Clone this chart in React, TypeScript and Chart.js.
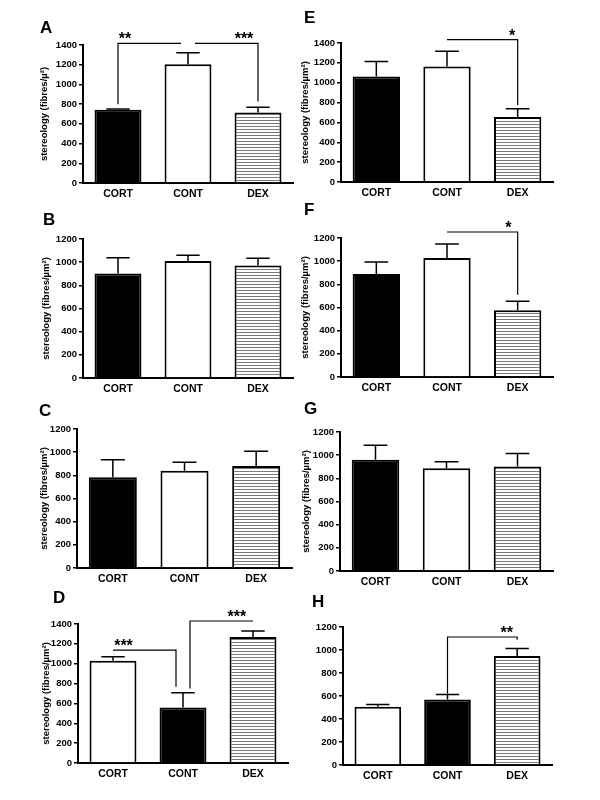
import React, { useEffect, useRef } from 'react';
import { Chart, registerables } from 'chart.js';

Chart.register(...registerables);

const FONT = '"Liberation Sans", Arial, Helvetica, sans-serif';
Chart.defaults.font.family = FONT;

// ---------- data ----------
const categories = ['CORT', 'CONT', 'DEX'];
const tickStep = 200;

const meansA = [742, 1204, 715];
const semA = [8, 118, 54];
const meansB = [903, 1010, 972];
const semB = [135, 49, 61];
const meansC = [783, 840, 880];
const semC = [152, 72, 127];
const meansD = [1030, 559, 1269];
const semD = [40, 148, 60];
const meansE = [1063, 1164, 654];
const semE = [151, 152, 85];
const meansF = [889, 1027, 576];
const semF = [104, 121, 77];
const meansG = [960, 886, 903];
const semG = [125, 57, 112];
const meansH = [506, 570, 948];
const semH = [20, 43, 64];

const fillsStd = ['black', 'white', 'stripe'];
const fillsSwap = ['white', 'black', 'stripe'];

type Bracket = {
  from: number;
  to: number;
  level: number;
  dropFrom?: number;
  dropTo?: number;
  label: string;
  labelAt: number;
};

const bracketsA: Bracket[] = [
  { from: 0, to: 0.9, level: 1417, dropFrom: 800, label: '**', labelAt: 0.1 },
  { from: 1.1, to: 2, level: 1417, dropTo: 826, label: '***', labelAt: 1.8 },
];
const bracketsD: Bracket[] = [
  { from: 0, to: 0.9, level: 1137, dropTo: 767, label: '***', labelAt: 0.15 },
  { from: 1.1, to: 2, level: 1430, dropFrom: 750, label: '***', labelAt: 1.77 },
];
const bracketsE: Bracket[] = [{ from: 1, to: 2, level: 1434, dropTo: 776, label: '*', labelAt: 1.92 }];
const bracketsF: Bracket[] = [{ from: 1, to: 2, level: 1252, dropTo: 711, label: '*', labelAt: 1.87 }];
const bracketsH: Bracket[] = [
  { from: 1, to: 2, level: 1113, dropFrom: 620, dropTo: 1090, label: '**', labelAt: 1.85 },
];

const titleA = 'stereology (fibres/µ²)';
const titleStd = 'stereology (fibres/µm²)';

// ---------- layout ----------
type Spec = {
  letter: string;
  col: number;
  axisX: number;
  axisTop: number;
  axisBottom: number;
  axisRight: number;
  yMax: number;
  letterX: number;
  letterY: number;
  titleX: number;
  title: string;
  means: number[];
  sem: number[];
  fills: string[];
  brackets: Bracket[];
};

const panels: Spec[] = [
  { letter: 'A', col: 0, axisX: 83, axisTop: 45, axisBottom: 183, axisRight: 293, yMax: 1400, letterX: 40, letterY: 33, titleX: 44, title: titleA, means: meansA, sem: semA, fills: fillsStd, brackets: bracketsA },
  { letter: 'B', col: 0, axisX: 83, axisTop: 239, axisBottom: 378, axisRight: 293, yMax: 1200, letterX: 43, letterY: 225, titleX: 46, title: titleStd, means: meansB, sem: semB, fills: fillsStd, brackets: [] },
  { letter: 'C', col: 0, axisX: 77, axisTop: 429, axisBottom: 568, axisRight: 292, yMax: 1200, letterX: 39, letterY: 416, titleX: 44, title: titleStd, means: meansC, sem: semC, fills: fillsStd, brackets: [] },
  { letter: 'D', col: 0, axisX: 78, axisTop: 624, axisBottom: 763, axisRight: 288, yMax: 1400, letterX: 53, letterY: 603, titleX: 46, title: titleStd, means: meansD, sem: semD, fills: fillsSwap, brackets: bracketsD },
  { letter: 'E', col: 300, axisX: 341, axisTop: 43, axisBottom: 182, axisRight: 553, yMax: 1400, letterX: 304, letterY: 23, titleX: 305, title: titleStd, means: meansE, sem: semE, fills: fillsStd, brackets: bracketsE },
  { letter: 'F', col: 300, axisX: 341, axisTop: 238, axisBottom: 377, axisRight: 553, yMax: 1200, letterX: 304, letterY: 215, titleX: 305, title: titleStd, means: meansF, sem: semF, fills: fillsStd, brackets: bracketsF },
  { letter: 'G', col: 300, axisX: 340, axisTop: 432, axisBottom: 571, axisRight: 553, yMax: 1200, letterX: 304, letterY: 414, titleX: 306, title: titleStd, means: meansG, sem: semG, fills: fillsStd, brackets: [] },
  { letter: 'H', col: 300, axisX: 343, axisTop: 627, axisBottom: 765, axisRight: 552, yMax: 1200, letterX: 312, letterY: 607, titleX: 306, title: '', means: meansH, sem: semH, fills: fillsSwap, brackets: bracketsH },
];

const TOP_ROOM = 45;
const BOTTOM_ROOM = 25;
const X_AXIS_H = 20;

let stripeCache: CanvasPattern | null = null;
function stripe(): CanvasPattern | string {
  if (stripeCache) return stripeCache;
  const c = document.createElement('canvas');
  c.width = 4;
  c.height = 3;
  const g = c.getContext('2d');
  if (!g) return '#ccc';
  g.fillStyle = '#ffffff';
  g.fillRect(0, 0, 4, 3);
  g.fillStyle = '#7a7a7a';
  g.fillRect(0, 0, 4, 1);
  const p = g.createPattern(c, 'repeat');
  if (!p) return '#ccc';
  stripeCache = p;
  return p;
}

function makeOverlay(spec: Spec, left: number, top: number) {
  return {
    id: 'overlay' + spec.letter,
    afterDatasetsDraw(chart: any) {
      const { ctx } = chart;
      const x = chart.scales.x;
      const y = chart.scales.y;
      const meta = chart.getDatasetMeta(0);
      const p0 = x.getPixelForValue(0);
      const p1 = x.getPixelForValue(1);
      const px = (v: number) => p0 + (p1 - p0) * v;
      ctx.save();
      ctx.strokeStyle = '#000';
      ctx.lineWidth = 1.5;
      spec.means.forEach((m, i) => {
        const el = meta.data[i];
        const cx = el.x;
        const w = el.width;
        const y0 = y.getPixelForValue(m);
        const y1 = y.getPixelForValue(m + spec.sem[i]);
        ctx.beginPath();
        ctx.moveTo(cx, y0);
        ctx.lineTo(cx, y1);
        ctx.moveTo(cx - w / 4, y1);
        ctx.lineTo(cx + w / 4, y1);
        ctx.stroke();
      });
      ctx.lineWidth = 1.2;
      ctx.fillStyle = '#000';
      spec.brackets.forEach((b) => {
        const yl = y.getPixelForValue(b.level);
        const xa = px(b.from);
        const xb = px(b.to);
        ctx.beginPath();
        if (b.dropFrom != null) {
          ctx.moveTo(xa, y.getPixelForValue(b.dropFrom));
          ctx.lineTo(xa, yl);
        } else {
          ctx.moveTo(xa, yl);
        }
        ctx.lineTo(xb, yl);
        if (b.dropTo != null) ctx.lineTo(xb, y.getPixelForValue(b.dropTo));
        ctx.stroke();
        ctx.font = `bold 16px ${FONT}`;
        ctx.textAlign = 'center';
        ctx.textBaseline = 'alphabetic';
        ctx.fillText(b.label, px(b.labelAt), yl + 1);
      });
      ctx.font = `bold 17px ${FONT}`;
      ctx.textAlign = 'left';
      ctx.textBaseline = 'alphabetic';
      ctx.fillText(spec.letter, spec.letterX - left, spec.letterY - top);
      ctx.restore();
    },
  };
}

function Panel({ spec }: { spec: Spec }) {
  const ref = useRef<HTMLCanvasElement>(null);
  const left = spec.col;
  const top = spec.axisTop - TOP_ROOM;
  const height = spec.axisBottom - spec.axisTop + TOP_ROOM + BOTTOM_ROOM;
  const width = 300;

  useEffect(() => {
    if (!ref.current) return;
    const colors = spec.fills.map((f) => (f === 'black' ? '#000000' : f === 'white' ? '#ffffff' : stripe()));
    const chart = new Chart(ref.current, {
      type: 'bar',
      data: {
        labels: categories,
        datasets: [
          {
            data: spec.means,
            backgroundColor: colors as any,
            borderColor: '#000',
            borderWidth: 2,
            barPercentage: 0.67,
            categoryPercentage: 1,
          },
        ],
      },
      options: {
        responsive: false,
        animation: false,
        events: [],
        layout: {
          padding: {
            left: 0,
            top: TOP_ROOM,
            right: left + width - spec.axisRight,
            bottom: BOTTOM_ROOM - X_AXIS_H,
          },
        },
        plugins: { legend: { display: false }, tooltip: { enabled: false }, title: { display: false } },
        scales: {
          x: {
            grid: { display: false, drawTicks: false },
            border: { display: true, color: '#000', width: 2 },
            ticks: { color: '#000', font: { size: 10.5, weight: 'bold' }, padding: 5 },
            afterFit: (s: any) => {
              s.height = X_AXIS_H;
            },
          },
          y: {
            min: 0,
            max: spec.yMax,
            ticks: {
              stepSize: tickStep,
              color: '#000',
              font: { size: 9.5, weight: 'bold' },
              padding: 2,
              callback: (v: any) => String(v),
            },
            grid: { drawOnChartArea: false, drawTicks: true, tickLength: 4, color: '#000', lineWidth: 1.5 },
            border: { display: true, color: '#000', width: 2 },
            title: {
              display: !!spec.title,
              text: spec.title,
              color: '#000',
              font: { size: 9.5, weight: 'bold' },
              padding: { top: Math.max(0, spec.titleX - left - 5.7), bottom: 0 },
            },
            afterFit: (s: any) => {
              s.width = spec.axisX - left;
            },
          },
        },
      } as any,
      plugins: [makeOverlay(spec, left, top)],
    });
    return () => chart.destroy();
  }, []);

  return (
    <canvas
      ref={ref}
      width={width}
      height={height}
      style={{ position: 'absolute', left, top, width, height, display: 'block' }}
    />
  );
}

export default function App() {
  return (
    <div style={{ position: 'absolute', left: 0, top: 0, width: 600, height: 800, background: '#fff', overflow: 'hidden' }}>
      {panels.map((p) => (
        <Panel key={p.letter} spec={p} />
      ))}
    </div>
  );
}
